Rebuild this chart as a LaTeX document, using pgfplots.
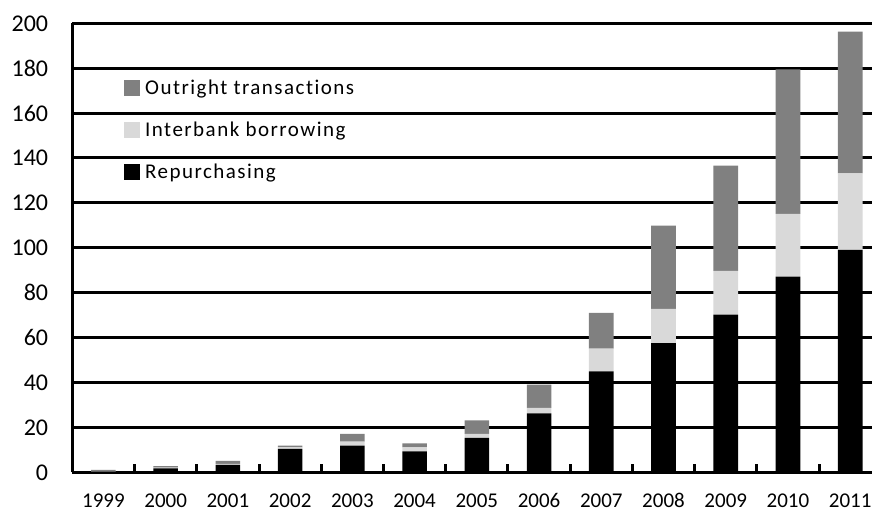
\documentclass[border=0pt]{standalone}
\usepackage{pgfplots}
\pgfplotsset{compat=1.18}
\usepackage{fontspec}
\setmainfont{Carlito}
\newfontfamily\legfont{Carlito}[LetterSpace=7, Ligatures=NoCommon]
\definecolor{outr}{HTML}{808080}
\definecolor{inter}{HTML}{D9D9D9}
\pgfplotstableread{
x year repo inter outr
0 1999 0.3 0.2 0.6
1 2000 1.7 0.4 0.7
2 2001 3.3 0.5 1.3
3 2002 10.4 0.7 0.8
4 2003 11.9 1.8 3.4
5 2004 9.3 1.8 1.8
6 2005 15.3 1.8 6.0
7 2006 26.3 2.4 10.3
8 2007 44.9 10.2 15.9
9 2008 57.5 15.3 37.1
10 2009 70.2 19.5 46.9
11 2010 87.2 27.9 64.4
12 2011 99.1 34.1 63.1
}\data
\begin{document}
\begin{tikzpicture}
\begin{axis}[
  scale only axis,
  width=799.7bp, height=449bp,
  xmin=-0.5, xmax=12.35,
  ymin=0, ymax=200,
  ytick={0,20,...,200},
  xtick={0,...,12},
  xticklabels={1999,2000,2001,2002,2003,2004,2005,2006,2007,2008,2009,2010,2011},
  minor xtick={0.5,1.5,...,11.5},
  axis x line*=bottom, axis y line*=left,
  axis line style={line width=3.2bp, black, -},
  ymajorgrids,
  major grid style={line width=3bp, black},
  major tick length=0pt,
  minor tick length=8bp,
  tick align=inside,
  every minor tick/.append style={line width=3bp, black},
  /pgf/number format/assume math mode=true,
  xticklabel style={font=\fontsize{21bp}{25bp}\selectfont, inner sep=0pt, anchor=base, yshift=-35bp},
  yticklabel style={font=\fontsize{24bp}{28bp}\selectfont, inner sep=0pt, anchor=east, xshift=-24bp},
  ybar stacked,
  bar width=24.6bp,
  reverse legend,
  legend style={draw=none, fill=none, at={(rel axis cs:0,1)}, anchor=north west,
    xshift=51.7bp, yshift=-56bp, row sep=26bp,
    font=\legfont\fontsize{21bp}{25bp}\selectfont, inner sep=0pt,
    nodes={inner sep=0pt}},
  legend cell align=left,
  legend image code/.code={\fill[#1] (0bp,-8bp) rectangle (16bp,8bp); \path (21bp,0bp);},
]
\addplot[fill=black, draw=none] table[x=x, y=repo] {\data};
\addplot[fill=inter, draw=none] table[x=x, y=inter] {\data};
\addplot[fill=outr, draw=none] table[x=x, y=outr] {\data};
\legend{Repurchasing, Interbank borrowing, Outright transactions}
\coordinate (O) at (rel axis cs:0,0);
\coordinate (T) at (rel axis cs:1,1);
\end{axis}
\pgfresetboundingbox
\path[use as bounding box] ([xshift=-72.3bp, yshift=-40.7bp]O) rectangle ([yshift=23.3bp]T);
\end{tikzpicture}
\end{document}
